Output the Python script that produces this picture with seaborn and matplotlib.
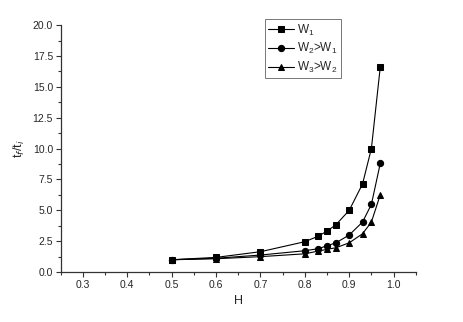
import matplotlib
matplotlib.use("Agg")
import matplotlib.pyplot as plt
import seaborn as sns
import pandas as pd
from matplotlib.ticker import MultipleLocator

H = [0.5, 0.6, 0.7, 0.8, 0.83, 0.85, 0.87, 0.9, 0.93, 0.95, 0.97]
w1 = [1.0, 1.19, 1.65, 2.46, 2.9, 3.32, 3.83, 5.0, 7.13, 10.0, 16.6]
w2 = [1.0, 1.12, 1.38, 1.73, 1.89, 2.13, 2.37, 3.0, 4.05, 5.48, 8.8]
w3 = [1.0, 1.08, 1.25, 1.48, 1.7, 1.84, 1.97, 2.37, 3.1, 4.05, 6.26]
labels = ["W$_1$", "W$_2$>W$_1$", "W$_3$>W$_2$"]

rows = []
for lab, ys in zip(labels, [w1, w2, w3]):
    for x, y in zip(H, ys):
        rows.append({"H": x, "r": y, "series": lab})
df = pd.DataFrame(rows)

sns.set_style("ticks")
plt.rcParams["font.family"] = ["Liberation Sans", "DejaVu Sans"]
plt.rcParams["mathtext.fontset"] = "custom"
plt.rcParams["mathtext.rm"] = "Liberation Sans"

fig = plt.figure(figsize=(4.63, 3.22), dpi=100)
ax = fig.add_axes([0.131, 0.155, 0.767, 0.767])

sns.lineplot(data=df, x="H", y="r", hue="series", style="series",
             palette=["black"] * 3, markers=["s", "o", "^"], dashes=False,
             markersize=4.5, linewidth=0.8, markeredgecolor="black", ax=ax)

ax.set_xlim(0.25, 1.05)
ax.set_ylim(0, 20)
ax.set_xticks([0.3, 0.4, 0.5, 0.6, 0.7, 0.8, 0.9, 1.0])
ax.set_xticklabels(["0.3", "0.4", "0.5", "0.6", "0.7", "0.8", "0.9", "1.0"])
ax.xaxis.set_minor_locator(MultipleLocator(0.05))
ax.yaxis.set_major_locator(MultipleLocator(2.5))
ax.yaxis.set_minor_locator(MultipleLocator(1.25))
ax.tick_params(which="major", length=3.5, width=0.8, labelsize=7.5, color="#333333", pad=2)
ax.tick_params(which="minor", length=2, width=0.8, color="#333333")
for s in ["left", "bottom"]:
    ax.spines[s].set_linewidth(0.9)
    ax.spines[s].set_color("#333333")
sns.despine(ax=ax)

ax.set_xlabel("H", fontsize=9, labelpad=4)
ax.set_ylabel("t$_f$/t$_i$", fontsize=9, labelpad=4)

leg = ax.legend(loc="upper left", bbox_to_anchor=(0.575, 1.025), fontsize=8.5,
                frameon=True, fancybox=False, edgecolor="#555555",
                handlelength=2.2, borderpad=0.3, labelspacing=0.3,
                handletextpad=0.2, borderaxespad=0)
leg.get_frame().set_linewidth(0.7)

fig.savefig("out.png", dpi=100)
